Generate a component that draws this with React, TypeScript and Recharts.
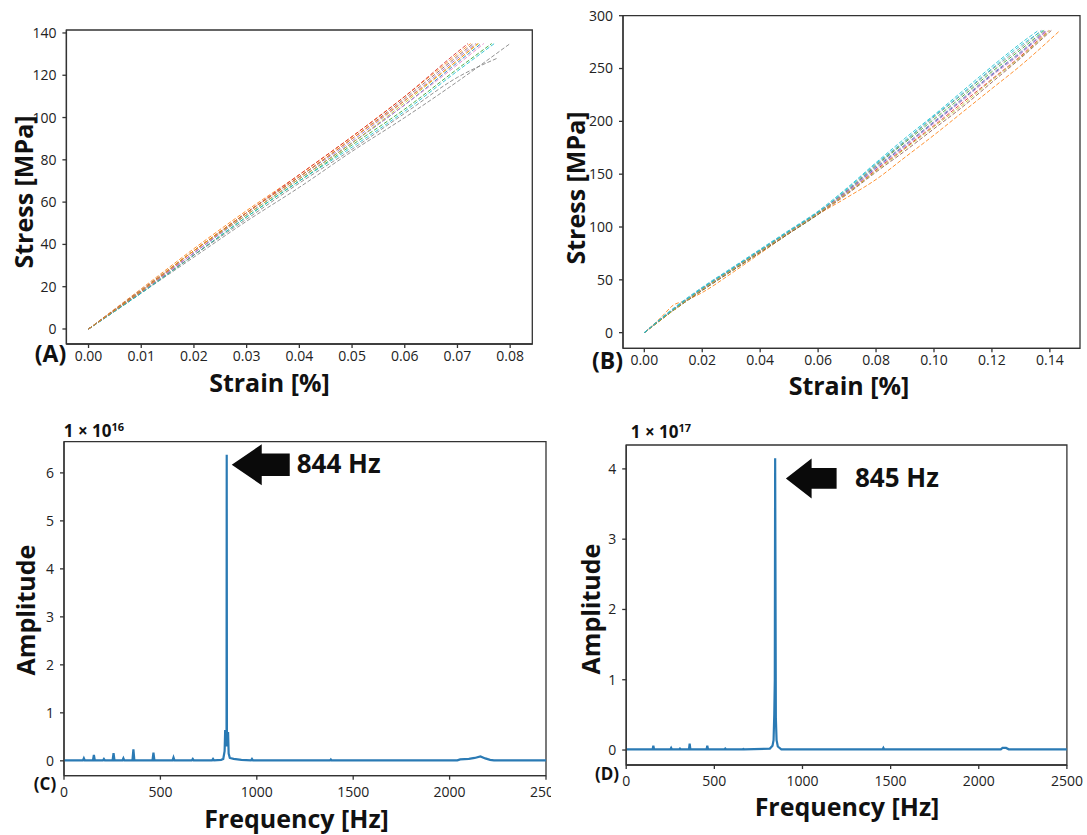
import React from 'react';
import { LineChart, Line, XAxis, YAxis, ReferenceDot, ReferenceArea } from 'recharts';

const FONT = '"Open Sans", "Noto Sans", sans-serif';

// ---- (A) stress-strain, one array per specimen: [strain %, stress MPa]
const a01 = [[0, 0], [0.01, 18], [0.02, 36], [0.03, 54], [0.04, 71], [0.05, 88], [0.06, 106], [0.07, 126], [0.0745, 135]];
const a02 = [[0, 0], [0.01, 19], [0.02, 38], [0.03, 56], [0.04, 73], [0.05, 91], [0.06, 110], [0.07, 130], [0.0725, 135]];
const a03 = [[0, 0], [0.01, 17], [0.02, 35], [0.03, 53], [0.04, 70], [0.05, 87], [0.06, 104], [0.07, 123], [0.0765, 135]];
const a04 = [[0, 0], [0.01, 18], [0.02, 37], [0.03, 55], [0.04, 73], [0.05, 91], [0.06, 110], [0.07, 131], [0.072, 135]];
const a05 = [[0, 0], [0.01, 18], [0.02, 36], [0.03, 55], [0.04, 72], [0.05, 89], [0.06, 108], [0.07, 128], [0.0735, 135]];
const a06 = [[0, 0], [0.01, 18.5], [0.02, 37], [0.03, 55], [0.04, 72], [0.05, 90], [0.06, 109], [0.07, 129], [0.073, 135]];
const a07 = [[0, 0], [0.01, 17.5], [0.02, 36], [0.03, 54], [0.04, 71], [0.05, 88], [0.06, 106], [0.07, 125], [0.075, 135]];
const a08 = [[0, 0], [0.01, 17], [0.02, 34], [0.03, 51], [0.04, 67], [0.05, 84], [0.06, 100], [0.07, 117], [0.08, 135]];
const a09 = [[0, 0], [0.01, 18], [0.02, 37], [0.03, 54], [0.04, 71], [0.05, 88], [0.06, 107], [0.07, 127], [0.074, 135]];
const a10 = [[0, 0], [0.01, 17], [0.02, 35], [0.03, 53], [0.04, 70], [0.05, 86], [0.06, 103], [0.07, 122], [0.077, 135]];
const a11 = [[0, 0], [0.01, 17.5], [0.02, 35], [0.03, 52], [0.04, 69], [0.05, 85], [0.06, 102], [0.07, 119], [0.0775, 128]];
const a12 = [[0, 0], [0.01, 18], [0.02, 37], [0.03, 55], [0.04, 72], [0.05, 90], [0.06, 108], [0.07, 127], [0.0738, 135]];
const specimensA = [a01, a02, a03, a04, a05, a06, a07, a08, a09, a10, a11, a12];
const colorsA = ['#1f77b4', '#ff7f0e', '#2ca02c', '#d62728', '#9467bd', '#8c564b', '#e377c2', '#7f7f7f', '#bcbd22', '#17becf', '#7f7f7f', '#ff7f0e'];
const ticksAx = [0, 0.01, 0.02, 0.03, 0.04, 0.05, 0.06, 0.07, 0.08];
const ticksAy = [0, 20, 40, 60, 80, 100, 120, 140];

// ---- (B) stress-strain
const b01 = [[0, 0], [0.01, 22], [0.02, 41], [0.03, 59], [0.04, 77], [0.05, 95], [0.06, 113], [0.07, 133], [0.08, 156], [0.09, 177], [0.1, 199], [0.11, 221], [0.12, 244], [0.13, 265], [0.139, 286]];
const b02 = [[0, 0], [0.006, 15], [0.01, 26], [0.014, 30], [0.02, 38], [0.03, 56], [0.04, 75], [0.05, 94], [0.06, 112], [0.07, 128], [0.08, 145], [0.09, 166], [0.1, 187], [0.11, 209], [0.12, 231], [0.13, 253], [0.1435, 286]];
const b03 = [[0, 0], [0.01, 21], [0.02, 40], [0.03, 58], [0.04, 76], [0.05, 94], [0.06, 112], [0.07, 134], [0.08, 158], [0.09, 180], [0.1, 202], [0.11, 224], [0.12, 247], [0.13, 268], [0.138, 286]];
const b04 = [[0, 0], [0.01, 21], [0.02, 41], [0.03, 59], [0.04, 77], [0.05, 95], [0.06, 113], [0.07, 132], [0.08, 154], [0.09, 175], [0.1, 196], [0.11, 218], [0.12, 240], [0.13, 262], [0.1395, 286]];
const b05 = [[0, 0], [0.01, 22], [0.02, 42], [0.03, 60], [0.04, 78], [0.05, 96], [0.06, 114], [0.07, 134], [0.08, 157], [0.09, 178], [0.1, 200], [0.11, 222], [0.12, 245], [0.13, 266], [0.1385, 286]];
const b06 = [[0, 0], [0.01, 21], [0.02, 40], [0.03, 58], [0.04, 76], [0.05, 94], [0.06, 112], [0.07, 131], [0.08, 152], [0.09, 172], [0.1, 193], [0.11, 214], [0.12, 237], [0.13, 260], [0.1405, 286]];
const b07 = [[0, 0], [0.01, 22], [0.02, 41], [0.03, 59], [0.04, 77], [0.05, 95], [0.06, 113], [0.07, 133], [0.08, 155], [0.09, 176], [0.1, 198], [0.11, 220], [0.12, 243], [0.13, 264], [0.139, 286]];
const b08 = [[0, 0], [0.01, 22], [0.02, 42], [0.03, 60], [0.04, 78], [0.05, 96], [0.06, 114], [0.07, 135], [0.08, 159], [0.09, 181], [0.1, 204], [0.11, 226], [0.12, 249], [0.13, 270], [0.137, 286]];
const b09 = [[0, 0], [0.01, 21], [0.02, 41], [0.03, 59], [0.04, 77], [0.05, 95], [0.06, 113], [0.07, 132], [0.08, 153], [0.09, 174], [0.1, 195], [0.11, 216], [0.12, 239], [0.13, 261], [0.14, 286]];
const b10 = [[0, 0], [0.01, 23], [0.02, 43], [0.03, 61], [0.04, 79], [0.05, 97], [0.06, 115], [0.07, 137], [0.08, 161], [0.09, 184], [0.1, 206], [0.11, 229], [0.12, 252], [0.13, 274], [0.136, 286]];
const b11 = [[0, 0], [0.01, 22], [0.02, 42], [0.03, 60], [0.04, 78], [0.05, 96], [0.06, 114], [0.07, 136], [0.08, 160], [0.09, 182], [0.1, 205], [0.11, 227], [0.12, 250], [0.13, 272], [0.1375, 286]];
const specimensB = [b01, b02, b03, b04, b05, b06, b07, b08, b09, b10, b11];
const colorsB = ['#1f77b4', '#ff7f0e', '#2ca02c', '#d62728', '#9467bd', '#8c564b', '#e377c2', '#7f7f7f', '#bcbd22', '#17becf', '#17becf'];
const ticksBx = [0, 0.02, 0.04, 0.06, 0.08, 0.1, 0.12, 0.14];
const ticksBy = [0, 50, 100, 150, 200, 250, 300];

// ---- (C) FFT spectrum [Hz, amplitude x1e16]
const specC = [[0, 0.01], [98, 0.01], [103, 0.055], [108, 0.01], [150, 0.01], [155, 0.125], [160, 0.01], [202, 0.01], [207, 0.04], [212, 0.01], [252, 0.01], [257, 0.16], [262, 0.01], [303, 0.01], [308, 0.055], [313, 0.01], [355, 0.01], [360, 0.24], [365, 0.01], [459, 0.01], [464, 0.17], [469, 0.01], [563, 0.01], [568, 0.07], [573, 0.01], [663, 0.01], [668, 0.04], [673, 0.01], [768, 0.01], [773, 0.04], [778, 0.01], [815, 0.02], [826, 0.04], [833, 0.2], [836, 0.64], [839, 0.3], [841, 0.6], [843, 0.4], [844, 6.38], [845, 0.55], [848, 0.3], [851, 0.6], [854, 0.15], [860, 0.06], [880, 0.04], [920, 0.02], [970, 0.01], [975, 0.04], [980, 0.01], [1380, 0.01], [1384, 0.03], [1388, 0.01], [2040, 0.01], [2055, 0.03], [2100, 0.04], [2130, 0.06], [2160, 0.09], [2185, 0.05], [2210, 0.02], [2230, 0.01], [2500, 0.01]];
const ticksCy = [0, 1, 2, 3, 4, 5, 6];

// ---- (D) FFT spectrum [Hz, amplitude x1e17]
const specD = [[0, 0.01], [150, 0.01], [154, 0.06], [158, 0.01], [251, 0.01], [255, 0.03], [259, 0.01], [301, 0.01], [305, 0.02], [309, 0.01], [356, 0.01], [360, 0.09], [364, 0.01], [456, 0.01], [460, 0.06], [464, 0.01], [558, 0.01], [562, 0.02], [566, 0.01], [661, 0.01], [665, 0.015], [669, 0.01], [815, 0.02], [830, 0.06], [836, 0.14], [840, 0.5], [843, 1.0], [845, 4.15], [847, 2.28], [849, 0.45], [853, 0.14], [860, 0.05], [880, 0.01], [1455, 0.01], [1459, 0.03], [1463, 0.01], [2125, 0.01], [2135, 0.03], [2155, 0.03], [2170, 0.01], [2500, 0.01]];
const ticksDy = [0, 1, 2, 3, 4];
const ticksFreq = [0, 500, 1000, 1500, 2000, 2500];

const toPts = (arr) => arr.map(([x, y]) => ({ x, y }));

const tickStyle = { fill: '#222', fontSize: 14, fontFamily: FONT };
const spine = { stroke: '#333', strokeWidth: 1.3 };

function Txt({ x, y, size = 25, rotate = false, children }) {
  return (
    <div
      style={{
        position: 'absolute',
        left: x,
        top: y,
        transform: `translate(-50%, -50%)${rotate ? ' rotate(-90deg)' : ''}`,
        fontFamily: FONT,
        fontWeight: 700,
        fontSize: size,
        color: '#111',
        whiteSpace: 'nowrap',
        lineHeight: 1,
      }}
    >
      {children}
    </div>
  );
}

function Arrow(props) {
  const { cx, cy, label, head, shaft, hh, sh, tx, ty } = props;
  const pts = [
    [cx, cy], [cx + head, cy - hh], [cx + head, cy - sh], [cx + shaft, cy - sh],
    [cx + shaft, cy + sh], [cx + head, cy + sh], [cx + head, cy + hh],
  ].map((p) => p.join(',')).join(' ');
  return (
    <g>
      <polygon points={pts} fill="#0a0a0a" />
      <text x={cx + tx} y={cy + ty} fontFamily={FONT} fontWeight={700} fontSize={26} fill="#111">{label}</text>
    </g>
  );
}

function StressChart({ specimens, colors, width, height, margin, yW, xH, xDomain, yDomain, xTicks, yTicks, xMargin }) {
  return (
    <LineChart width={width} height={height} margin={margin}>
      <XAxis type="number" dataKey="x" domain={xDomain} ticks={xTicks} allowDataOverflow
        tickFormatter={(v) => v.toFixed(2)} tick={tickStyle} tickSize={4} tickMargin={xMargin}
        height={xH} axisLine={spine} tickLine={spine} interval={0} />
      <YAxis type="number" dataKey="y" domain={yDomain} ticks={yTicks} allowDataOverflow
        tick={tickStyle} tickSize={4} tickMargin={6} width={yW} axisLine={spine} tickLine={spine} interval={0} />
      <ReferenceArea x1={xDomain[0]} x2={xDomain[1]} y1={yDomain[0]} y2={yDomain[1]}
        fill="none" fillOpacity={0} stroke="#333" strokeWidth={1.3} />
      {specimens.map((s, i) => (
        <Line key={i} data={toPts(s)} dataKey="y" type="monotone" dot={false} stroke={colors[i]}
          strokeWidth={1} strokeDasharray="4 2" strokeOpacity={0.85} isAnimationActive={false} />
      ))}
    </LineChart>
  );
}

function SpectrumChart({ data, width, height, margin, yW, xH, yDomain, yTicks, arrow }) {
  return (
    <LineChart width={width} height={height} margin={margin}>
      <XAxis type="number" dataKey="x" domain={[0, 2500]} ticks={ticksFreq} allowDataOverflow
        tick={tickStyle} tickSize={4} tickMargin={7} height={xH} axisLine={spine} tickLine={spine} interval={0} />
      <YAxis type="number" domain={yDomain} ticks={yTicks} allowDataOverflow
        tick={tickStyle} tickSize={4} tickMargin={6} width={yW} axisLine={spine} tickLine={spine} interval={0} />
      <ReferenceArea x1={0} x2={2500} y1={yDomain[0]} y2={yDomain[1]}
        fill="none" fillOpacity={0} stroke="#333" strokeWidth={1.3} />
      <Line data={toPts(data)} dataKey="y" type="linear" dot={false} stroke="#2a7ab4" strokeWidth={2.2} isAnimationActive={false} />
      <ReferenceDot x={arrow.x} y={arrow.y} ifOverflow="visible"
        shape={(p) => <Arrow {...p} {...arrow.geo} label={arrow.label} />} />
    </LineChart>
  );
}

export default function App() {
  return (
    <div style={{ position: 'absolute', left: 0, top: 0, width: 1087, height: 835, background: '#fff', overflow: 'hidden' }}>
      {/* (A) */}
      <div style={{ position: 'absolute', left: 0, top: 0 }}>
        <StressChart specimens={specimensA} colors={colorsA} width={560} height={400}
          margin={{ top: 30, right: 27.7, bottom: 0, left: 0 }} yW={66.4} xH={56}
          xDomain={[-0.0042, 0.0842]} yDomain={[-7.1, 141.4]} xTicks={ticksAx} yTicks={ticksAy} xMargin={3} />
      </div>
      {/* (B) */}
      <div style={{ position: 'absolute', left: 540, top: 0 }}>
        <StressChart specimens={specimensB} colors={colorsB} width={547} height={400}
          margin={{ top: 15.7, right: 7, bottom: 0, left: 0 }} yW={83} xH={51.7}
          xDomain={[-0.00735, 0.1504]} yDomain={[-14.8, 300]} xTicks={ticksBx} yTicks={ticksBy} xMargin={3} />
      </div>
      {/* (C) */}
      <div style={{ position: 'absolute', left: 0, top: 410, width: 551, height: 425, overflow: 'hidden' }}>
        <SpectrumChart data={specC} width={600} height={425}
          margin={{ top: 31.7, right: 54, bottom: 0, left: 0 }} yW={64} xH={59.3}
          yDomain={[-0.31, 6.65]} yTicks={ticksCy}
          arrow={{ x: 870, y: 6.17, label: '844 Hz', geo: { head: 30, shaft: 58, hh: 20.5, sh: 11.3, tx: 65, ty: 8 } }} />
      </div>
      {/* (D) */}
      <div style={{ position: 'absolute', left: 560, top: 410 }}>
        <SpectrumChart data={specD} width={527} height={425}
          margin={{ top: 35, right: 20.1, bottom: 0, left: 0 }} yW={66.2} xH={70}
          yDomain={[-0.213, 4.34]} yTicks={ticksDy}
          arrow={{ x: 906, y: 3.865, label: '845 Hz', geo: { head: 25.7, shaft: 50.7, hh: 20, sh: 10.3, tx: 69, ty: 9 } }} />
      </div>

      {/* axis titles and panel letters */}
      <Txt x={23} y={192} rotate>Stress [MPa]</Txt>
      <Txt x={269.5} y={382}>Strain [%]</Txt>
      <Txt x={50.5} y={353} size={23}>(A)</Txt>

      <Txt x={574.5} y={188} rotate>Stress [MPa]</Txt>
      <Txt x={849} y={385}>Strain [%]</Txt>
      <Txt x={607.6} y={360} size={23}>(B)</Txt>

      <Txt x={25} y={609.5} rotate>Amplitude</Txt>
      <Txt x={296.5} y={817.5}>Frequency [Hz]</Txt>
      <Txt x={45} y={782.5} size={17}>(C)</Txt>
      <Txt x={94} y={430} size={17}>1 × 10<sup style={{ fontSize: 11 }}>16</sup></Txt>

      <Txt x={590} y={608.5} rotate>Amplitude</Txt>
      <Txt x={847} y={805.5}>Frequency [Hz]</Txt>
      <Txt x={607} y={772.5} size={17}>(D)</Txt>
      <Txt x={661} y={431} size={17}>1 × 10<sup style={{ fontSize: 11 }}>17</sup></Txt>
    </div>
  );
}
